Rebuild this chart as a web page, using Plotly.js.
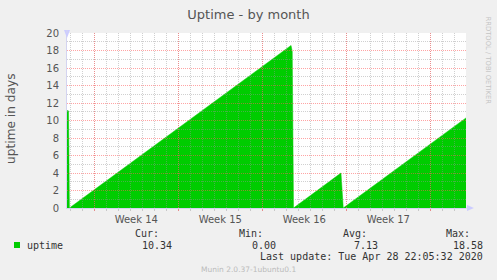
<!DOCTYPE html>
<html>
<head>
<meta charset="utf-8">
<script src="https://cdn.plot.ly/plotly-3.0.1.min.js"></script>
<style>html,body{margin:0;padding:0;background:#f0f0f0;}#chart{width:497px;height:280px;}</style>
</head>
<body>
<div id="chart"></div>
<script>
// ---- data (x = days since start of the 33-day window) ----
const days   = [0, 0.13, 0.2, 18.67, 18.77, 18.83, 18.875, 22.83, 22.98, 23.02, 33.25];
const uptime = [11.15, 11.1, 0, 18.58, 17.9, 0, 0, 4.0, 0, 0, 10.3];
const weekStarts = [2.275, 9.275, 16.275, 23.275, 30.275];
const weekLabels = ['Week 14', 'Week 15', 'Week 16', 'Week 17'];
const yTicks = [0, 2, 4, 6, 8, 10, 12, 14, 16, 18, 20];
const statHeads = ['Cur:', 'Min:', 'Avg:', 'Max:'];
const statVals  = ['10.34', '0.00', '7.13', '18.58'];
const seriesName = 'uptime';
const lastUpdate = 'Last update: Tue Apr 28 22:05:32 2020';

// ---- layout geometry ----
const W = 497, H = 280, ML = 67, MR = 31, MT = 33, MB = 72;
const PW = W - ML - MR, PH = H - MT - MB;
const fx = p => (p - ML) / PW;
const fy = p => (H - MB - p) / PH;

const weekMids = weekLabels.map((_, i) => (weekStarts[i] + weekStarts[i + 1]) / 2);
const xRange = [0, 33.25];
const green = '#00cc00';
const axisCol = '#d4d4f0';
const textCol = '#555555';
const majorGrid = 'rgba(255,90,90,0.55)';
const minorGrid = 'rgba(150,150,150,0.45)';
const mono = 'DejaVu Sans Mono, monospace';
const sans = 'DejaVu Sans, sans-serif';

const traces = [
  { x: days, y: uptime, type: 'scatter', mode: 'lines', fill: 'tozeroy',
    fillcolor: green, line: { color: green, width: 0.5 }, name: seriesName,
    xaxis: 'x', yaxis: 'y', hoverinfo: 'skip' },
  { x: [], y: [], type: 'scatter', mode: 'lines', xaxis: 'x2', yaxis: 'y2',
    showlegend: false, hoverinfo: 'skip' }
];

const statX = [159, 263, 367, 470];
const valX  = [172, 276, 378, 483];
const ann = [];
statHeads.forEach((h, i) => ann.push({ text: h, x: fx(statX[i] + 1), y: fy(233), xanchor: 'right' }));
statVals.forEach((v, i) => ann.push({ text: v, x: fx(valX[i] + 1), y: fy(245), xanchor: 'right' }));
ann.push({ text: seriesName, x: fx(26), y: fy(245), xanchor: 'left' });
ann.push({ text: lastUpdate, x: fx(484), y: fy(256), xanchor: 'right' });
ann.forEach(a => { a.xref = 'paper'; a.yref = 'paper'; a.yanchor = 'middle'; a.showarrow = false;
  a.font = { family: mono, size: 10, color: '#333333' }; a.borderpad = 0; });
ann.push({ text: 'Munin 2.0.37-1ubuntu0.1', xref: 'paper', yref: 'paper', x: fx(248), y: fy(269),
  xanchor: 'center', yanchor: 'middle', showarrow: false, font: { family: sans, size: 7.5, color: '#bbbbbb' } });
ann.push({ text: 'RRDTOOL / TOBI OETIKER', xref: 'paper', yref: 'paper', x: fx(487.5), y: fy(61),
  xanchor: 'center', yanchor: 'middle', textangle: 90, showarrow: false,
  font: { family: sans, size: 6.8, color: '#c4c4c4' } });
ann.push({ text: 'uptime in days', xref: 'paper', yref: 'paper', x: fx(11), y: fy(119),
  xanchor: 'center', yanchor: 'middle', textangle: -90, showarrow: false,
  font: { family: sans, size: 12.2, color: textCol } });

const shapes = [
  { type: 'rect', xref: 'x domain', yref: 'y domain', x0: 0, x1: 1, y0: 0, y1: 1,
    fillcolor: '#ffffff', line: { width: 0 }, layer: 'below' },
  // legend swatch
  { type: 'rect', xref: 'paper', yref: 'paper', xsizemode: 'pixel', ysizemode: 'pixel',
    xanchor: fx(14), yanchor: fy(242), x0: 0, x1: 6, y0: 0, y1: -6,
    fillcolor: green, line: { width: 0 } },
  // axis arrows
  { type: 'path', xref: 'paper', yref: 'paper', xsizemode: 'pixel', ysizemode: 'pixel',
    xanchor: fx(67), yanchor: fy(33),
    path: 'M -3 3 L 3 3 L 0 -5 Z', fillcolor: '#ccccff', line: { width: 0 } },
  { type: 'path', xref: 'paper', yref: 'paper', xsizemode: 'pixel', ysizemode: 'pixel',
    xanchor: fx(466), yanchor: fy(208),
    path: 'M 1 3 L 1 -3 L 8 0 Z', fillcolor: '#ccccff', line: { width: 0 } },
  { type: 'line', xref: 'paper', yref: 'paper', x0: fx(466), x1: fx(469), y0: fy(208), y1: fy(208),
    line: { color: axisCol, width: 1 } },
  { type: 'line', xref: 'paper', yref: 'paper', x0: fx(67), x1: fx(67), y0: fy(33), y1: fy(30),
    line: { color: axisCol, width: 1 } }
];

const layout = {
  width: W, height: H,
  margin: { l: ML, r: MR, t: MT, b: MB, pad: 0 },
  paper_bgcolor: '#f0f0f0', plot_bgcolor: 'rgba(0,0,0,0)',
  showlegend: false,
  title: { text: 'Uptime - by month', x: 0.5, xref: 'container', xanchor: 'center',
    y: 1 - 14 / H, yref: 'container', yanchor: 'middle',
    font: { family: sans, size: 13, color: textCol } },
  xaxis: { domain: [0, 1], range: xRange, tickmode: 'array', tickvals: weekMids, ticktext: weekLabels,
    showgrid: false, zeroline: false, ticks: '', showline: true, linecolor: axisCol, linewidth: 1,
    tickfont: { family: sans, size: 10, color: textCol }, ticklabelstandoff: 2, fixedrange: true },
  yaxis: { domain: [0, 1], range: [0, 20], tickmode: 'array', tickvals: yTicks, ticktext: yTicks.map(String),
    showgrid: false, zeroline: false, ticks: '', showline: true, linecolor: axisCol, linewidth: 1,
    tickfont: { family: sans, size: 10, color: textCol }, ticklabelstandoff: 5, fixedrange: true },
  xaxis2: { domain: [0, 1], anchor: 'y2', range: xRange, tickmode: 'array', tickvals: weekStarts,
    showticklabels: false, showgrid: true, gridcolor: majorGrid, griddash: '1px,1px', gridwidth: 1,
    ticks: 'outside', ticklen: 2, tickcolor: majorGrid, zeroline: false, showline: false,
    minor: { tick0: 0.275, dtick: 1, showgrid: true, gridcolor: minorGrid, griddash: '1px,1px',
      gridwidth: 1, ticks: 'outside', ticklen: 2, tickcolor: minorGrid }, fixedrange: true },
  yaxis2: { domain: [0, 1], anchor: 'x2', range: [0, 20], tick0: 0, dtick: 2,
    showticklabels: false, showgrid: true, gridcolor: majorGrid, griddash: '1px,1px', gridwidth: 1,
    ticks: '', zeroline: false, showline: false,
    minor: { tick0: 0, dtick: 1, showgrid: true, gridcolor: minorGrid, griddash: '1px,1px', gridwidth: 1 },
    fixedrange: true },
  annotations: ann,
  shapes: shapes
};

Plotly.newPlot('chart', traces, layout, { displayModeBar: false, staticPlot: true });
</script>
</body>
</html>
